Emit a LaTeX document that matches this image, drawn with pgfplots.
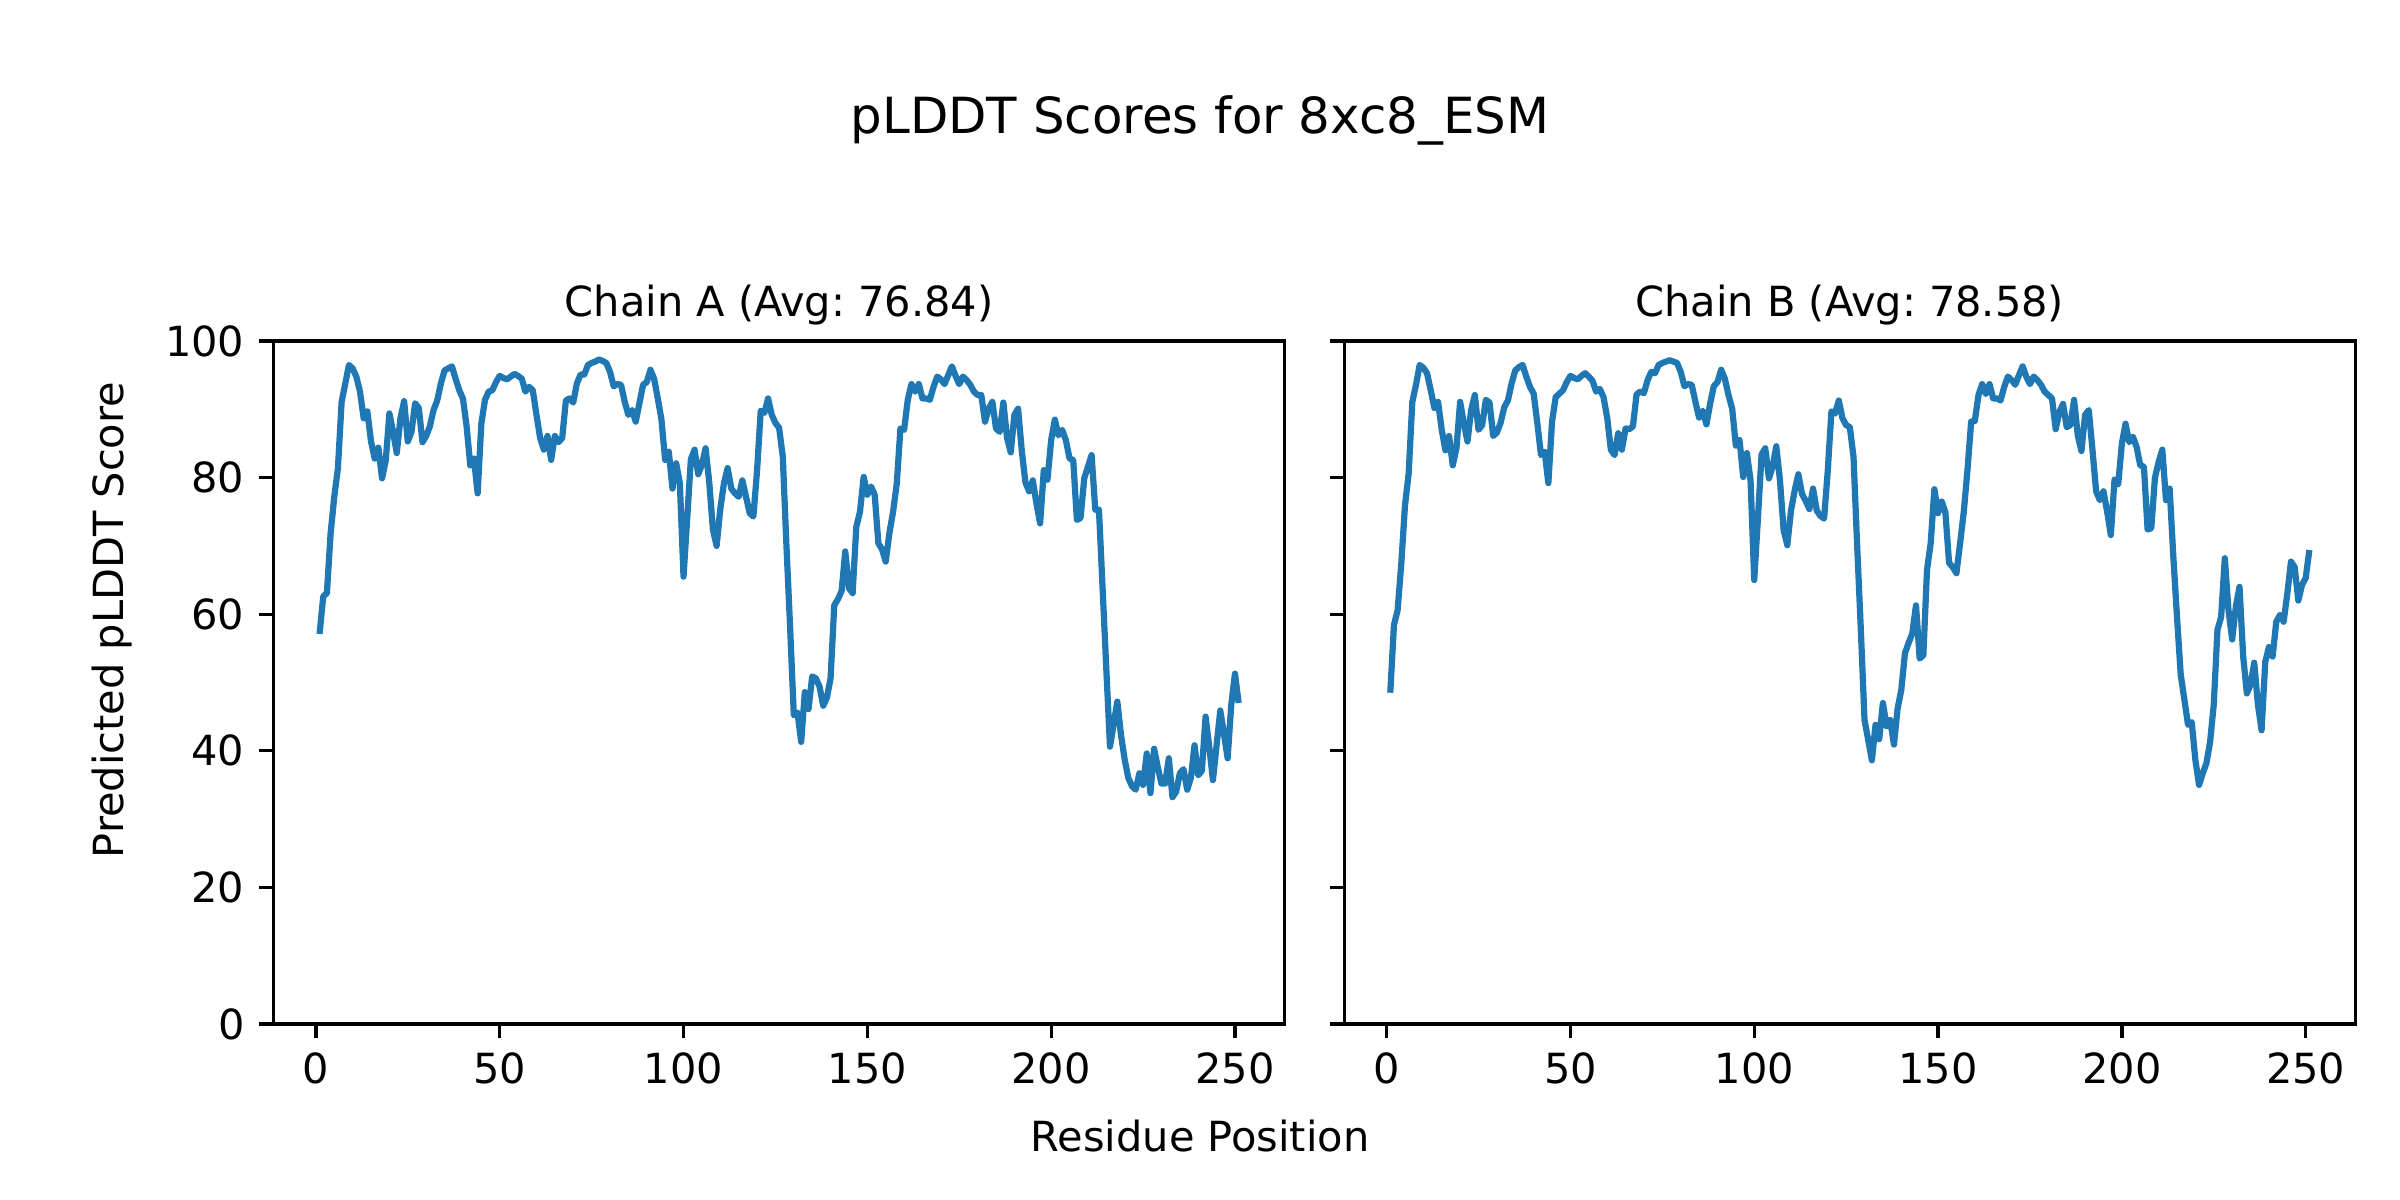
\documentclass[border=0pt]{standalone}
\usepackage{fontspec}
\setmainfont{DejaVu Sans}
\usepackage{pgfplots}
\usepackage{pgfplotstable}
\pgfplotsset{compat=1.18}
\definecolor{mplblue}{HTML}{1F77B4}
\frenchspacing

\pgfplotstableread{
x y
1 57.1
2 62.6
3 63.1
4 71.8
5 77.2
6 81.4
7 91.1
8 93.8
9 96.5
10 96.0
11 94.8
12 92.6
13 88.7
14 89.7
15 85.3
16 82.8
17 84.4
18 79.9
19 82.5
20 89.4
21 86.7
22 83.6
23 88.7
24 91.2
25 85.3
26 86.7
27 90.9
28 90.2
29 85.2
30 86.1
31 87.5
32 89.9
33 91.3
34 93.8
35 95.7
36 96.0
37 96.3
38 94.5
39 92.8
40 91.6
41 87.5
42 81.8
43 82.8
44 77.7
45 87.9
46 91.4
47 92.6
48 92.8
49 94.0
50 94.9
51 94.6
52 94.4
53 94.8
54 95.2
55 94.9
56 94.5
57 92.6
58 93.3
59 92.8
60 89.2
61 85.8
62 84.1
63 86.1
64 82.6
65 86.1
66 85.2
67 85.8
68 91.3
69 91.6
70 91.0
71 93.8
72 95.1
73 95.1
74 96.5
75 96.8
76 97.0
77 97.3
78 97.1
79 96.8
80 95.5
81 93.4
82 93.7
83 93.6
84 91.1
85 89.2
86 89.9
87 88.2
88 90.9
89 93.6
90 94.0
91 95.8
92 94.5
93 91.6
94 88.5
95 82.6
96 83.8
97 78.4
98 82.1
99 79.2
100 65.5
101 74.0
102 82.7
103 84.1
104 80.5
105 81.9
106 84.3
107 79.3
108 72.4
109 70.0
110 75.4
111 79.2
112 81.4
113 78.4
114 77.7
115 77.2
116 79.6
117 77.2
118 74.8
119 74.3
120 81.0
121 89.8
122 89.5
123 91.6
124 89.2
125 88.0
126 87.3
127 83.1
128 70.0
129 58.0
130 45.2
131 45.6
132 41.3
133 48.6
134 46.1
135 50.9
136 50.6
137 49.4
138 46.6
139 47.8
140 50.6
141 61.3
142 62.2
143 63.4
144 69.2
145 63.8
146 63.1
147 72.8
148 75.0
149 80.1
150 77.5
151 78.7
152 77.5
153 70.4
154 69.5
155 67.7
156 71.9
157 75.0
158 79.1
159 87.2
160 87.0
161 91.4
162 93.7
163 92.6
164 93.7
165 91.6
166 91.6
167 91.4
168 93.3
169 94.8
170 94.4
171 93.7
172 95.0
173 96.3
174 94.9
175 93.7
176 94.8
177 94.3
178 93.6
179 92.6
180 92.1
181 92.1
182 88.2
183 90.1
184 91.1
185 87.2
186 86.7
187 91.0
188 85.8
189 83.7
190 89.2
191 90.1
192 84.0
193 79.3
194 78.0
195 79.6
196 76.2
197 73.3
198 81.1
199 79.7
200 85.5
201 88.5
202 86.2
203 87.0
204 85.5
205 82.8
206 82.6
207 73.8
208 74.1
209 79.9
210 81.6
211 83.3
212 75.3
213 75.3
214 63.7
215 52.0
216 40.6
217 43.9
218 47.2
219 42.3
220 38.7
221 36.0
222 34.8
223 34.3
224 36.7
225 35.0
226 39.6
227 33.8
228 40.3
229 37.6
230 35.2
231 35.2
232 38.9
233 33.2
234 34.0
235 36.7
236 37.3
237 34.3
238 36.0
239 40.8
240 36.4
241 37.1
242 45.0
243 40.6
244 35.7
245 40.8
246 45.9
247 42.5
248 38.9
249 46.8
250 51.3
251 47.0
}\chainA

\pgfplotstableread{
x y
1 48.5
2 58.4
3 60.6
4 67.4
5 75.9
6 80.6
7 91.1
8 93.6
9 96.5
10 96.1
11 95.3
12 92.8
13 90.2
14 91.1
15 87.0
16 84.0
17 86.1
18 81.8
19 84.3
20 91.1
21 88.0
22 85.3
23 89.9
24 92.1
25 87.0
26 87.7
27 91.4
28 91.0
29 86.1
30 86.6
31 88.0
32 90.3
33 91.3
34 93.8
35 95.7
36 96.2
37 96.5
38 94.8
39 93.3
40 92.3
41 88.0
42 83.3
43 83.8
44 79.2
45 88.2
46 91.8
47 92.3
48 92.8
49 94.0
50 94.9
51 94.6
52 94.4
53 94.9
54 95.3
55 94.8
56 94.2
57 92.6
58 93.0
59 91.8
60 88.8
61 84.1
62 83.3
63 86.5
64 84.1
65 87.2
66 87.1
67 87.5
68 92.2
69 92.6
70 92.4
71 94.3
72 95.5
73 95.3
74 96.5
75 96.8
76 97.0
77 97.2
78 97.0
79 96.8
80 95.5
81 93.4
82 93.7
83 93.6
84 91.1
85 88.8
86 89.8
87 87.8
88 90.8
89 93.4
90 94.0
91 95.8
92 94.5
93 92.1
94 90.1
95 84.7
96 85.5
97 80.1
98 83.6
99 79.6
100 65.0
101 74.0
102 83.4
103 84.3
104 79.9
105 81.6
106 84.6
107 79.6
108 72.3
109 70.1
110 75.2
111 78.1
112 80.5
113 77.6
114 76.6
115 75.4
116 78.4
117 75.2
118 74.4
119 74.0
120 81.0
121 89.7
122 89.4
123 91.3
124 88.7
125 87.7
126 87.4
127 83.1
128 70.0
129 57.7
130 44.5
131 41.6
132 38.6
133 43.8
134 41.7
135 47.0
136 43.6
137 44.5
138 40.9
139 46.2
140 48.9
141 54.3
142 55.8
143 57.2
144 61.3
145 53.5
146 54.0
147 66.5
148 70.4
149 78.3
150 74.8
151 76.5
152 74.9
153 67.5
154 66.9
155 66.0
156 70.4
157 75.0
158 81.1
159 88.2
160 88.3
161 92.1
162 93.7
163 92.3
164 93.7
165 91.6
166 91.6
167 91.3
168 93.3
169 94.8
170 94.3
171 93.6
172 95.0
173 96.3
174 94.8
175 93.7
176 94.8
177 94.3
178 93.6
179 92.6
180 92.1
181 91.6
182 87.1
183 89.6
184 90.8
185 87.4
186 87.7
187 91.4
188 86.2
189 83.9
190 89.2
191 89.9
192 84.1
193 78.0
194 76.7
195 78.0
196 75.0
197 71.6
198 79.7
199 79.0
200 85.0
201 87.9
202 85.2
203 86.0
204 84.5
205 81.8
206 81.6
207 72.4
208 72.6
209 80.0
210 82.3
211 84.1
212 76.7
213 78.4
214 68.4
215 59.6
216 51.2
217 47.5
218 43.8
219 44.2
220 38.6
221 35.0
222 36.7
223 38.2
224 41.3
225 46.8
226 57.7
227 59.6
228 68.2
229 60.6
230 56.3
231 61.1
232 64.0
233 53.8
234 48.4
235 49.7
236 52.9
237 46.8
238 43.0
239 53.0
240 55.2
241 53.8
242 58.9
243 59.9
244 58.9
245 63.0
246 67.7
247 66.9
248 62.0
249 64.3
250 65.3
251 69.4
}\chainB

\pgfplotsset{
  plddt/.style={
    scale only axis,
    width=3.37in, height=2.276in,
    xmin=-11.5, xmax=263.5, ymin=0, ymax=100,
    xtick={0,50,...,250}, ytick={0,20,...,100},
    xtick pos=bottom, ytick pos=left,
    tick align=outside,
    major tick length=3.5pt,
    every tick/.style={black, line width=0.8pt},
    axis line style={line width=0.8pt},
    tick label style={font=\fontsize{10}{12}\selectfont},
    /pgf/number format/assume math mode=true,
    title style={font=\fontsize{10}{12}\selectfont, at={(0.5,1)}, anchor=base, yshift=0pt},
  },
  chainline/.style={color=mplblue, line width=1.5pt, line join=round, no markers},
}

\begin{document}
\begin{tikzpicture}
\path[use as bounding box] (0,0) rectangle (8in,4in);
\begin{axis}[plddt, at={(0.912in,0.587in)}, anchor=south west,
  title={Chain A (Avg: 76.84)}]
\addplot[chainline] table[x=x,y=y] {\chainA};
\end{axis}
\begin{axis}[plddt, at={(4.481in,0.587in)}, anchor=south west,
  title={Chain B (Avg: 78.58)}, yticklabels={}]
\addplot[chainline] table[x=x,y=y] {\chainB};
\end{axis}
\node[anchor=base, font=\fontsize{12}{14}\selectfont] at (4in,3.556in) {pLDDT Scores for 8xc8\_ESM};
\node[anchor=base, font=\fontsize{10}{12}\selectfont] at (4in,0.161in) {Residue Position};
\node[rotate=90, font=\fontsize{10}{12}\selectfont] at (0.372in,1.933in) {Predicted pLDDT Score};
\end{tikzpicture}
\end{document}
